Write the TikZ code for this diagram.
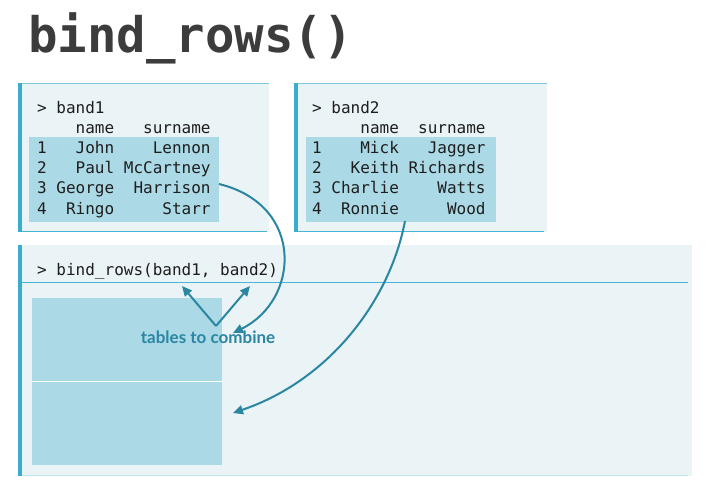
\documentclass[tikz,border=0pt]{standalone}
\usepackage{fontspec}
\setmonofont{DejaVu Sans Mono}
\newfontfamily\labelfont{Lato}
\usetikzlibrary{arrows.meta}
\definecolor{boxbg}{HTML}{EAF3F6}
\definecolor{hilite}{HTML}{ABD9E6}
\definecolor{accent}{HTML}{3AADCF}
\definecolor{edgeline}{HTML}{7ECBE0}
\definecolor{sepline}{HTML}{45B6D8}
\definecolor{arrowc}{HTML}{2A86A1}
\definecolor{codec}{HTML}{1E1E1E}
\definecolor{titlec}{HTML}{3C3C3C}
\tikzset{
  code/.style={anchor=base west, inner sep=0pt, font=\ttfamily\fontsize{16}{20}\selectfont, text=codec},
  conn/.style={draw=arrowc, line width=2pt, -{Triangle[length=10pt,width=9pt]}},
}
\begin{document}
\begin{tikzpicture}[x=1pt,y=-1pt]
\useasboundingbox (0,0) rectangle (712,485);
% title
\node[anchor=base west, inner sep=0pt, font=\ttfamily\bfseries\fontsize{49}{50}\selectfont, text=titlec] (title) at (28,52) {bind\_rows()};
% box 1
\fill[boxbg] (18,83) rectangle (269,232);
\draw[edgeline, line width=1pt] (20,83.5) -- (269,83.5);
\draw[sepline, line width=1pt] (20,231.5) -- (267,231.5);
\fill[accent] (18,83) rectangle (22,232);
\fill[hilite] (29,137) rectangle (219,222);
% box 2
\fill[boxbg] (294,83) rectangle (547,232);
\draw[edgeline, line width=1pt] (296,83.5) -- (547,83.5);
\draw[sepline, line width=1pt] (296,231.5) -- (544,231.5);
\fill[accent] (294,83) rectangle (298,232);
\fill[hilite] (306,137) rectangle (496,222);
% box 3
\fill[boxbg] (18,245) rectangle (692,476);
\draw[sepline, line width=1pt] (22,282.5) -- (688,282.5);
\draw[edgeline!50, line width=1pt] (22,475.5) -- (688,475.5);
\fill[accent] (18,245) rectangle (22,476);
\fill[hilite] (32,298) rectangle (222,465);
\draw[white, line width=1pt] (32,381.5) -- (222,381.5);
% band1 text
\node[code] (b1p) at (37,113) {>{} band1};
\node[code] (b1h) at (37,133.2) {\ \ \ \ name\ \ \ surname};
\node[code] (b1r1) at (37,153.4) {1\ \ \ John\ \ \ \ Lennon};
\node[code] (b1r2) at (37,173.6) {2\ \ \ Paul McCartney};
\node[code] (b1r3) at (37,193.8) {3 George\ \ Harrison};
\node[code] (b1r4) at (37,214) {4\ \ Ringo\ \ \ \ \ Starr};
% band2 text
\node[code] (b2p) at (312,113) {>{} band2};
\node[code] (b2h) at (312,133.2) {\ \ \ \ \ name\ \ surname};
\node[code] (b2r1) at (312,153.4) {1\ \ \ \ Mick\ \ \ Jagger};
\node[code] (b2r2) at (312,173.6) {2\ \ \ Keith Richards};
\node[code] (b2r3) at (312,193.8) {3 Charlie\ \ \ \ Watts};
\node[code] (b2r4) at (312,214) {4\ \ Ronnie\ \ \ \ \ Wood};
% bind_rows call
\node[code] (call) at (37,275) {>{} bind\_rows(band1, band2)};
% label
\node[inner sep=0pt, font=\labelfont\bfseries\fontsize{17}{18}\selectfont, text=arrowc] (lbl) at (208,337) {tables to combine};
% coordinates
\coordinate (vtx) at (216,326);
\coordinate (t1) at (182,286);
\coordinate (t2) at (250,286);
\coordinate (s1) at (219,184);
\coordinate (e1) at (233,333);
\coordinate (s2) at (405,221);
\coordinate (e2) at (233,413);
\draw[conn] (vtx) -- (t1);
\draw[conn] (vtx) -- (t2);
\draw[conn] (s1) .. controls (305,205) and (300,300) .. (e1);
\draw[conn] (s2) .. controls (390,300) and (330,380) .. (e2);
\end{tikzpicture}
\end{document}
